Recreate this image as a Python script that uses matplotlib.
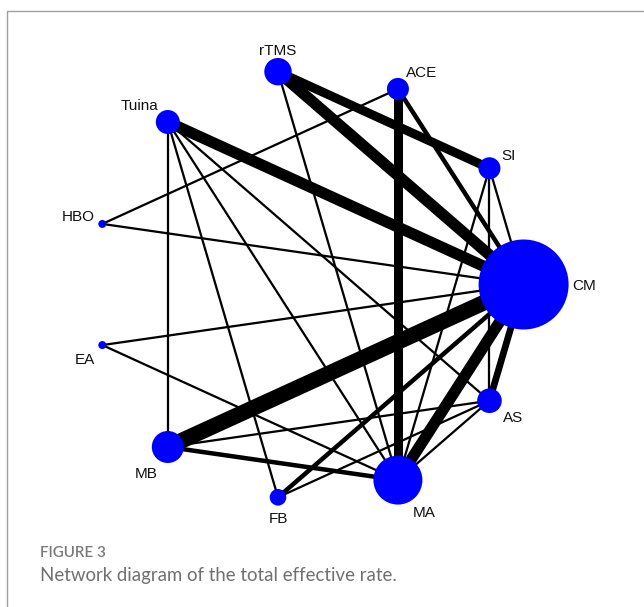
import numpy as np
import matplotlib
matplotlib.use("Agg")
import matplotlib.pyplot as plt
from matplotlib.patches import Circle
from matplotlib.lines import Line2D

# Treatments, in order around the circle (clockwise on screen, starting at the right)
treatments = ["CM", "AS", "MA", "FB", "MB", "EA", "HBO", "Tuina", "rTMS", "ACE", "SI"]
# Relative node size (proportional to the amount of evidence per treatment)
node_weight = [45, 12.3, 24.5, 8.3, 16, 4, 4, 12, 13.7, 11, 11]

# Direct comparisons and the number of studies behind each one
edge_from = ["rTMS", "rTMS", "rTMS", "ACE", "ACE", "ACE", "Tuina", "Tuina", "Tuina",
             "Tuina", "Tuina", "HBO", "EA", "EA", "MB", "MB", "MB", "FB", "FB",
             "MA", "MA", "AS", "SI", "SI", "SI"]
edge_to = ["SI", "CM", "MA", "HBO", "MA", "CM", "CM", "MB", "FB",
           "MA", "AS", "CM", "CM", "MA", "CM", "MA", "AS", "CM", "AS",
           "CM", "AS", "CM", "CM", "AS", "MA"]
edge_studies = [4, 5, 1, 1, 4, 2, 5, 1, 1,
                1, 1, 1, 1, 1, 7, 2, 1, 2, 1,
                5, 1, 3, 1, 1, 1]

caption_title = "FIGURE 3"
caption_text = "Network diagram of the total effective rate."

# ---- layout (pixel space) ----
W, H = 644, 607
DPI = 100
PX = 72.0 / DPI            # points per pixel
cx, cy, R = 308.6, 284.5, 215.0
unit_px = 2.25             # line width per study, in pixels

label_offset = {
    "CM": (61, 1), "AS": (24, 17), "MA": (26.5, 33), "FB": (0, 22),
    "MB": (-22, 27), "EA": (-17, 15), "HBO": (-24, -7), "Tuina": (-28, -16),
    "rTMS": (0, -21), "ACE": (24, -16), "SI": (19, -12),
}

n = len(treatments)
angles = 2 * np.pi * np.arange(n) / n
pos = {t: (cx + R * np.cos(a), cy + R * np.sin(a)) for t, a in zip(treatments, angles)}

fig = plt.figure(figsize=(W / DPI, H / DPI), dpi=DPI)
ax = fig.add_axes([0, 0, 1, 1])
ax.set_xlim(0, W)
ax.set_ylim(H, 0)
ax.set_aspect("equal")
ax.axis("off")

# frame around the figure panel
ax.add_line(Line2D([7.5, 7.5, W + 5], [H + 5, 10.5, 10.5], color="#a0a0a0",
                   lw=1.4 * PX, solid_capstyle="butt"))

# edges
for a, b, k in zip(edge_from, edge_to, edge_studies):
    (x0, y0), (x1, y1) = pos[a], pos[b]
    ax.plot([x0, x1], [y0, y1], color="black", lw=k * unit_px * PX,
            solid_capstyle="butt", zorder=1)

# nodes and labels
for t, w in zip(treatments, node_weight):
    x, y = pos[t]
    ax.add_patch(Circle((x, y), w, facecolor="#0000ff", edgecolor="none", zorder=2))
    dx, dy = label_offset[t]
    ax.text(x + dx, y + dy, t, ha="center", va="center", fontsize=11,
            family="Liberation Sans", color="#111111", zorder=3)

# caption
ax.text(40, 553, caption_title, ha="left", va="center", fontsize=11,
        family="Lato", fontweight="semibold", color="#7a7a7a")
ax.text(40, 576, caption_text, ha="left", va="center", fontsize=13.4,
        family="Lato", color="#707070")

fig.savefig("out.png", dpi=DPI)
